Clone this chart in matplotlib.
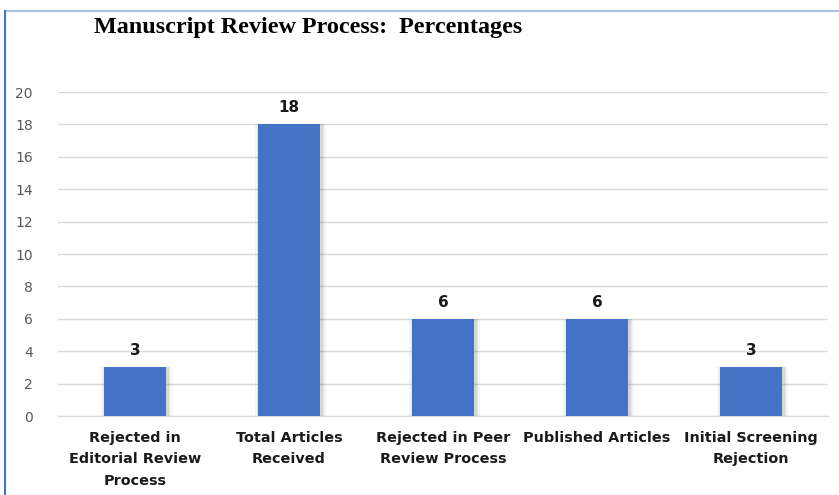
import matplotlib.pyplot as plt
from matplotlib.lines import Line2D

# chart data
categories = ['Rejected in\nEditorial Review\nProcess', 'Total Articles\nReceived',
              'Rejected in Peer\nReview Process', 'Published Articles',
              'Initial Screening\nRejection']
values = [3, 18, 6, 6, 3]
yticks = [0, 2, 4, 6, 8, 10, 12, 14, 16, 18, 20]

fig = plt.figure(figsize=(8.39, 4.95), dpi=100)
ax = fig.add_axes([58 / 839, 1 - 416 / 495, 770 / 839, 324 / 495])

x = range(len(values))
# soft shadow around bars
for w, a in [(0.46, 0.04), (0.44, 0.05), (0.42, 0.07)]:
    ax.bar([i + 0.01 for i in x], values, width=w, color='black', alpha=a, zorder=2)
bars = ax.bar(x, values, width=0.40, color='#4472C4', zorder=3)

for i, v in enumerate(values):
    ax.text(i, v + 0.55, str(v), ha='center', va='bottom', fontsize=11,
            fontweight='bold', color='#1a1a1a')

ax.set_xlim(-0.5, 4.5)
ax.set_ylim(0, 20)
ax.set_yticks(yticks)
ax.set_xticks(list(x))
ax.set_xticklabels(categories, fontsize=10.4, fontweight='bold', color='#1a1a1a',
                   linespacing=1.65)
ax.tick_params(axis='y', length=0, pad=18, labelsize=10, labelcolor='#595959')
ax.tick_params(axis='x', length=0, pad=11)
ax.grid(axis='y', color='#d9d9d9', linewidth=1, zorder=0)
for s in ['top', 'right', 'left']:
    ax.spines[s].set_visible(False)
ax.spines['bottom'].set_color('#d9d9d9')

fig.text(308 / 839, 1 - 27 / 495, 'Manuscript Review Process:  Percentages',
         ha='center', va='center', fontsize=17.4, fontweight='bold',
         family='Liberation Serif', color='black')

# frame lines
fig.add_artist(Line2D([5 / 839, 1], [1 - 11 / 495, 1 - 11 / 495], color='#a9c0e8', lw=1.5))
fig.add_artist(Line2D([5 / 839, 5 / 839], [0, 1 - 11 / 495], color='#4472C4', lw=1.5))

fig.savefig('out.png', dpi=100)
